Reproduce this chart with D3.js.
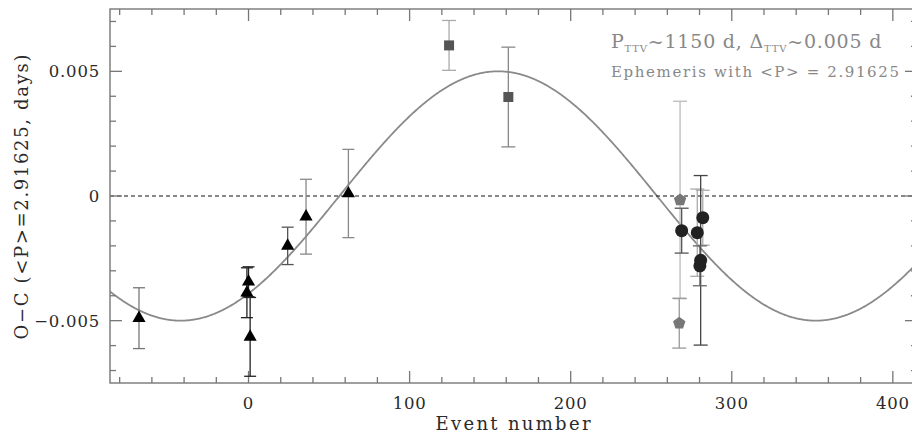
<!DOCTYPE html>
<html>
<head>
<meta charset="utf-8">
<script src="https://cdn.jsdelivr.net/npm/d3@7"></script>
<style>
  html, body { margin: 0; padding: 0; background: #fff; }
  svg { display: block; overflow: hidden; }
  text { font-family: "DejaVu Serif", serif; }
</style>
</head>
<body>
<svg id="chart" width="912" height="439"></svg>
<script>
// ---- Timing residuals (O-C, days) versus event number ----
// Ground-based transits (triangles)
const triEvent = [-68, -1, 0, 1, 24.3, 35.7, 62];
const triOC    = [-0.0049, -0.00388, -0.00344, -0.00565, -0.002, -0.00083, 0.0001];
const triErr   = [0.00122, 0.001, 0.0006, 0.00158, 0.00075, 0.0015, 0.00177];

// Squares
const sqEvent = [124.5, 161.3];
const sqOC    = [0.00604, 0.00397];
const sqErr   = [0.001, 0.002];

// Pentagons
const pentEvent = [267.9, 267.4];
const pentOC    = [-0.00016, -0.0051];
const pentErr   = [0.00396, 0.001];

// Circles
const circEvent = [268.9, 278.6, 282, 280.7, 280.2];
const circOC    = [-0.00139, -0.00147, -0.00087, -0.00258, -0.0028];
const circErr   = [0.0009, 0.00175, 0.0011, 0.0034, 0.0008];

// Axis ticks
const xMajorTicks = [0, 100, 200, 300, 400];
const yMajorTicks = [-0.005, 0, 0.005];
const yTickLabels = ["\u22120.005", "0", "0.005"];

// Sinusoidal TTV model parameters
const periodDays = 2.91625;   // mean orbital period <P>
const pTTVdays = 1150;        // TTV period
const aTTV = 0.005;           // TTV semi-amplitude (days)
const eventOfMax = 155;       // event number of the model maximum

// ---- error-bar shades (style) ----
const triErrShade  = ["#777", "#222", "#222", "#222", "#555", "#888", "#888"];
const sqErrShade   = ["#aaa", "#888"];
const pentErrShade = ["#bbb", "#999"];
const circErrShade = ["#555", "#aaa", "#aaa", "#444", "#666"];

const svg = d3.select("#chart");
const L = 110, R = 917, T = 9, B = 383;

const x = d3.scaleLinear().domain([-86, 415]).range([L, R]);
const y = d3.scaleLinear().domain([-0.0075, 0.0075]).range([B, T]);

const axisCol = "#777";
const textCol = "#2a2a2a";

svg.append("defs").append("clipPath").attr("id", "plotclip")
  .append("rect").attr("x", L).attr("y", T).attr("width", R - L).attr("height", B - T);

// model curve
const nTTV = pTTVdays / periodDays;
const model = d3.range(-86, 415.5, 0.5).map(e => [e, aTTV * Math.cos(2 * Math.PI * (e - eventOfMax) / nTTV)]);
svg.append("path")
  .datum(model)
  .attr("clip-path", "url(#plotclip)")
  .attr("fill", "none")
  .attr("stroke", "#8a8a8a")
  .attr("stroke-width", 1.8)
  .attr("d", d3.line().x(d => x(d[0])).y(d => y(d[1])));

// zero reference
svg.append("line")
  .attr("x1", L).attr("x2", R).attr("y1", y(0)).attr("y2", y(0))
  .attr("stroke", "#111").attr("stroke-width", 1)
  .attr("stroke-dasharray", "4,3");

// frame
svg.append("rect")
  .attr("x", L).attr("y", T).attr("width", R - L).attr("height", B - T)
  .attr("fill", "none").attr("stroke", axisCol).attr("stroke-width", 1.4);

// ticks via d3 scales
const ticksG = svg.append("g").attr("stroke", axisCol).attr("stroke-width", 1.3);
const xMinor = d3.range(-80, 415, 20);
xMinor.forEach(v => {
  const major = xMajorTicks.includes(v);
  const len = major ? 12 : 6;
  ticksG.append("line").attr("x1", x(v)).attr("x2", x(v)).attr("y1", B).attr("y2", B - len);
  ticksG.append("line").attr("x1", x(v)).attr("x2", x(v)).attr("y1", T).attr("y2", T + len);
});
const yMinor = d3.range(-7, 8, 1).map(k => k * 0.001);
yMinor.forEach(v => {
  const major = Math.abs(Math.round(v * 1000)) % 5 === 0;
  const len = major ? 12 : 6;
  ticksG.append("line").attr("y1", y(v)).attr("y2", y(v)).attr("x1", L).attr("x2", L + len);
  ticksG.append("line").attr("y1", y(v)).attr("y2", y(v)).attr("x1", R).attr("x2", R - len);
});

// tick labels
svg.append("g").selectAll("text").data(xMajorTicks).join("text")
  .attr("x", d => x(d)).attr("y", 409)
  .attr("text-anchor", "middle").attr("font-size", 16.5).attr("letter-spacing", 0.8)
  .attr("fill", textCol).text(d => d);
svg.append("g").selectAll("text").data(yMajorTicks).join("text")
  .attr("x", 100).attr("y", d => y(d) + 6)
  .attr("text-anchor", "end").attr("font-size", 16.5).attr("letter-spacing", 0.8)
  .attr("fill", textCol).text((d, i) => yTickLabels[i]);

// axis titles
svg.append("text")
  .attr("x", 513).attr("y", 430).attr("text-anchor", "middle")
  .attr("font-size", 18).attr("fill", textCol)
  .attr("textLength", 155).attr("lengthAdjust", "spacing")
  .text("Event number");
svg.append("text")
  .attr("transform", "translate(28,197) rotate(-90)")
  .attr("text-anchor", "middle").attr("font-size", 18).attr("fill", textCol)
  .attr("textLength", 285).attr("lengthAdjust", "spacing")
  .text("O\u2212C (<P>=2.91625, days)");

// annotation
const ann = svg.append("text").attr("x", 611).attr("y", 48)
  .attr("font-size", 19).attr("fill", "#888").attr("letter-spacing", 0.8);
ann.append("tspan").text("P");
ann.append("tspan").attr("font-size", 10).attr("dy", 4).text("TTV");
ann.append("tspan").attr("dy", -4).text("~1150 d, \u0394");
ann.append("tspan").attr("font-size", 10).attr("dy", 4).text("TTV");
ann.append("tspan").attr("dy", -4).text("~0.005 d");

svg.append("text").attr("x", 611).attr("y", 77)
  .attr("font-size", 15).attr("fill", "#888")
  .attr("textLength", 288).attr("lengthAdjust", "spacing")
  .text("Ephemeris with <P> = 2.91625");

// error bars
function errBars(ev, oc, er, shade, cap) {
  const g = svg.append("g").attr("clip-path", "url(#plotclip)").attr("stroke-width", 1.3);
  ev.forEach((e, i) => {
    const cx = x(e), y0 = y(oc[i] - er[i]), y1 = y(oc[i] + er[i]);
    const s = shade[i];
    g.append("line").attr("x1", cx).attr("x2", cx).attr("y1", y0).attr("y2", y1).attr("stroke", s);
    g.append("line").attr("x1", cx - cap).attr("x2", cx + cap).attr("y1", y0).attr("y2", y0).attr("stroke", s);
    g.append("line").attr("x1", cx - cap).attr("x2", cx + cap).attr("y1", y1).attr("y2", y1).attr("stroke", s);
  });
}
errBars(triEvent, triOC, triErr, triErrShade, 6);
errBars(sqEvent, sqOC, sqErr, sqErrShade, 7);
errBars(pentEvent, pentOC, pentErr, pentErrShade, 7);
errBars(circEvent, circOC, circErr, circErrShade, 7);

// markers
const tri = d3.symbol().type(d3.symbolTriangle).size(75);
svg.append("g").selectAll("path").data(triEvent).join("path")
  .attr("transform", (d, i) => `translate(${x(d)},${y(triOC[i])})`)
  .attr("d", tri).attr("fill", "#000");

const sq = d3.symbol().type(d3.symbolSquare).size(100);
svg.append("g").selectAll("path").data(sqEvent).join("path")
  .attr("transform", (d, i) => `translate(${x(d)},${y(sqOC[i])})`)
  .attr("d", sq).attr("fill", "#555");

const pentPath = (() => {
  const r = 6.5;
  return d3.range(5).map(k => {
    const a = -Math.PI / 2 + k * 2 * Math.PI / 5;
    return [r * Math.cos(a), r * Math.sin(a)];
  });
})();
svg.append("g").selectAll("path").data(pentEvent).join("path")
  .attr("transform", (d, i) => `translate(${x(d)},${y(pentOC[i])})`)
  .attr("d", "M" + pentPath.map(p => p.join(",")).join("L") + "Z")
  .attr("fill", "#777");

svg.append("g").selectAll("circle").data(circEvent).join("circle")
  .attr("cx", d => x(d)).attr("cy", (d, i) => y(circOC[i]))
  .attr("r", 6.5).attr("fill", "#222");
</script>
</body>
</html>
